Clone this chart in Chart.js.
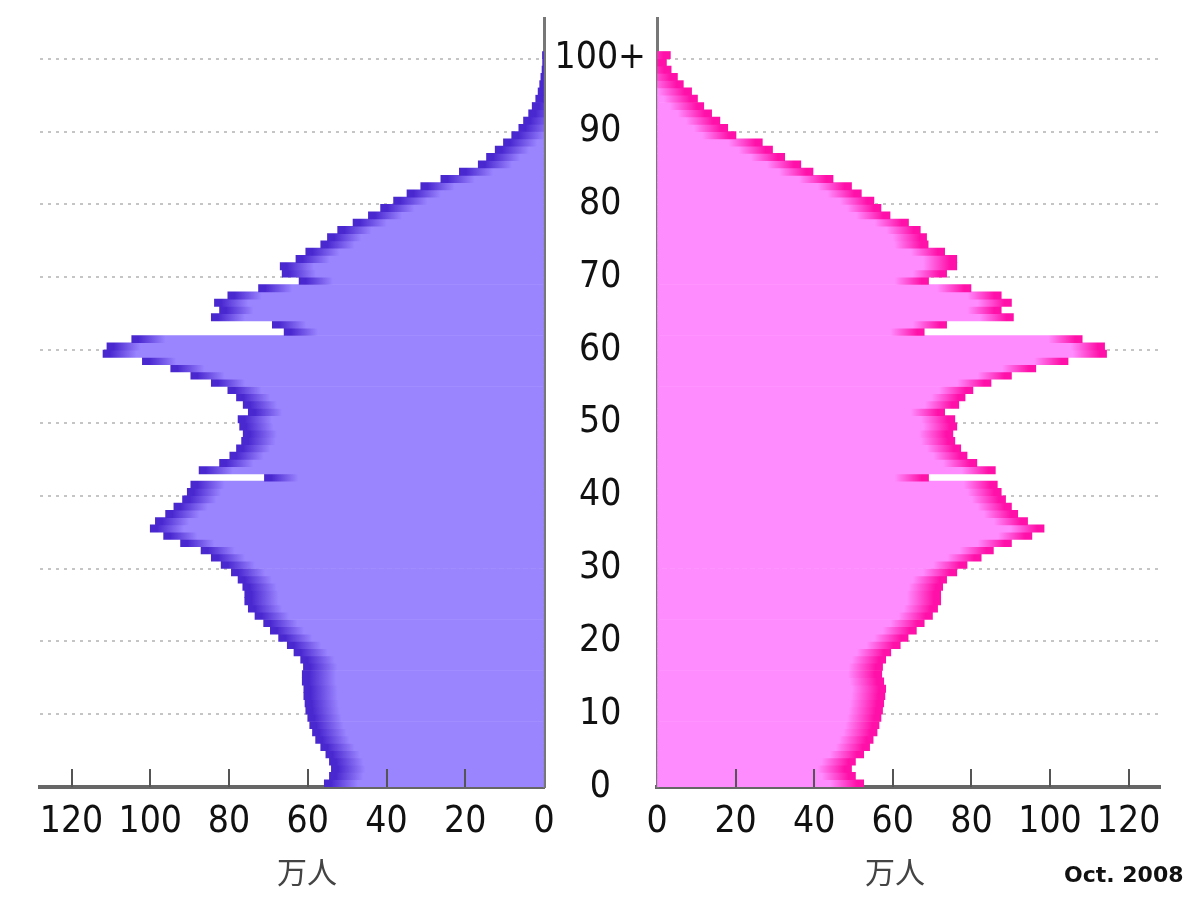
<!DOCTYPE html>
<html>
<head>
<meta charset="utf-8">
<script src="https://cdn.jsdelivr.net/npm/chart.js@4.4.0/dist/chart.umd.min.js"></script>
<style>
  body { margin: 0; background: #fff; width: 1200px; height: 900px; position: relative; overflow: hidden; }
  #leftWrap { position: absolute; left: 0; top: 0; }
  #rightWrap { position: absolute; left: 545px; top: 0; }
  .unit { position: absolute; top: 848px; font-family: 'Noto Sans CJK JP', sans-serif; font-size: 30px; color: #444; transform: translateX(-50%); }
  #stamp { position: absolute; left: 1064px; top: 862px; font-family: 'DejaVu Sans', sans-serif; font-weight: bold; font-size: 22px; color: #111; }
</style>
</head>
<body>
<div id="leftWrap"><canvas id="maleChart" width="560" height="900"></canvas></div>
<div id="rightWrap"><canvas id="femaleChart" width="655" height="900"></canvas></div>
<div class="unit" style="left:307px">万人</div>
<div class="unit" style="left:895px">万人</div>
<div id="stamp">Oct. 2008</div>
<script>
// ages 0 .. 100 (last one is 100+)
const ages = Array.from({ length: 101 }, (_, i) => i);
const ageTicks = [0, 10, 20, 30, 40, 50, 60, 70, 80, 90, 100];
const popTicks = [0, 20, 40, 60, 80, 100, 120];

// population in 万人, index = age
const male = [
  55.8, 54.5, 54, 54.5, 55.4, 56.7, 58, 58.8, 59.5, 60,
  60.5, 60.7, 61, 61, 61.4, 61.4, 61.1, 61.8, 63.5, 65.2,
  67.4, 69.5, 71.2, 73.4, 75.1, 76, 76, 76.5, 77.7, 79.4,
  82, 84.5, 87.1, 92.3, 96.6, 100, 98.7, 96.1, 94, 91.8,
  90.6, 89.7, 71, 87.6, 82.4, 79.8, 78.1, 76.8, 76.4, 77.3,
  77.7, 75.1, 76.4, 78.1, 80.3, 84.5, 89.7, 94.8, 102, 112,
  111, 104.7, 66, 69, 84.5, 82.4, 83.7, 80.3, 72.5, 62.2,
  66.5, 67, 63, 60.5, 56.7, 55, 52.4, 48.5, 44.6, 41.5,
  38.2, 34.8, 31.3, 26.2, 21.5, 16.7, 14.6, 12.4, 10.3, 8.2,
  6.4, 5.2, 3.9, 3.0, 2.1, 1.5, 1.1, 0.8, 0.5, 0.35,
  0.4
];
const female = [
  52.6, 50.5, 49.5, 50.5, 52.6, 54.1, 55, 56, 56.5, 57,
  57.4, 57.7, 58, 58.2, 57.7, 57.2, 57.4, 58.2, 59.5, 61.9,
  63.9, 66, 68, 70.1, 71.4, 72.2, 72.2, 72.7, 73.7, 76.3,
  78.9, 82.5, 85.6, 90.2, 95.4, 98.5, 94.3, 91.8, 90.2, 88.7,
  87.6, 86.6, 69.1, 86.1, 81.4, 78.9, 77.3, 75.8, 75.3, 76.3,
  75.8, 73.2, 76.8, 78.4, 80.4, 85, 90.2, 96.4, 104.6, 114.4,
  113.9, 108.2, 68, 73.7, 90.7, 87.6, 90.2, 87.6, 79.9, 69.1,
  73.7, 76.3, 76.3, 73.2, 69, 68.6, 67, 64, 59.3, 57,
  55.2, 52, 49.5, 44.8, 39.7, 36.6, 32.5, 29.4, 26.8, 20.1,
  18, 16, 13.9, 11.9, 10.3, 8.8, 6.7, 5.2, 3.6, 2.4,
  3.4
];

const FONT = "'DejaVu Sans Condensed', 'DejaVu Sans', sans-serif";

// dark tip fading to the light fill, like the original
function tipGradient(dark, light, dir) {
  return function (c) {
    const chart = c.chart;
    if (!chart.chartArea || !c.raw) return light;
    const px = chart.scales.x.getPixelForValue(c.raw.x);
    const g = chart.ctx.createLinearGradient(px, 0, px + dir * 34, 0);
    g.addColorStop(0, dark);
    g.addColorStop(0.2, dark);
    g.addColorStop(1, light);
    return g;
  };
}

// small tick marks drawn upwards from the x axis
const innerTicks = {
  id: 'innerTicks',
  afterDraw(chart) {
    const s = chart.scales.x, ctx = chart.ctx, b = chart.chartArea.bottom;
    ctx.save();
    ctx.strokeStyle = '#555';
    ctx.lineWidth = 2;
    s.ticks.forEach(t => {
      if (t.value === 0) return;
      const px = Math.round(s.getPixelForValue(t.value));
      ctx.beginPath();
      ctx.moveTo(px, b);
      ctx.lineTo(px, b - 18);
      ctx.stroke();
    });
    ctx.restore();
  }
};

function xScale(reverse) {
  return {
    type: 'linear', reverse: reverse, min: 0, max: 128, position: 'bottom', z: 1,
    afterBuildTicks: s => { s.ticks = popTicks.map(v => ({ value: v })); },
    afterFit: s => { s.height = 113; },
    grid: { display: true, drawOnChartArea: false, drawTicks: false },
    border: { display: true, color: '#666', width: 4 },
    ticks: { padding: 13, font: { family: FONT, size: 37 }, color: '#111', maxRotation: 0, autoSkip: false }
  };
}

function yScale(pos, showLabels) {
  return {
    type: 'linear', position: pos, min: 0, max: 105.6, z: 1,
    offset: false,
    afterBuildTicks: s => { s.ticks = ageTicks.map(v => ({ value: v })); },
    afterFit: s => {
      s.width = showLabels ? 112 : 16;
      s.paddingTop = 0;
      s.paddingBottom = 0;
    },
    grid: {
      offset: false,
      color: c => (c.tick && c.tick.value === 0) ? 'rgba(0,0,0,0)' : 'rgba(150,150,150,0.55)',
      lineWidth: 2, drawTicks: false
    },
    border: { display: true, color: '#777', width: 3, dash: [3, 5] },
    ticks: {
      display: showLabels, padding: 11, crossAlign: 'center',
      font: { family: FONT, size: 37 }, color: '#111',
      callback: v => v === 100 ? '100+' : v
    }
  };
}

function makeChart(id, values, dark, light, left) {
  const ctx = document.getElementById(id).getContext('2d');
  return new Chart(ctx, {
    type: 'bar',
    data: {
      datasets: [{
        data: ages.map((a, i) => ({ x: values[i], y: a + 0.5 })),
        backgroundColor: tipGradient(dark, light, left ? 1 : -1),
        borderWidth: 0,
        barPercentage: 1,
        categoryPercentage: 1
      }]
    },
    options: {
      indexAxis: 'y',
      responsive: false,
      animation: false,
      layout: { padding: left ? { left: 40, right: 0, top: 18, bottom: 0 } : { left: 0, right: 40, top: 18, bottom: 0 } },
      plugins: { legend: { display: false }, tooltip: { enabled: false } },
      scales: {
        x: xScale(left),
        y: yScale(left ? 'right' : 'left', !left)
      }
    },
    plugins: [innerTicks]
  });
}

makeChart('maleChart', male, '#4a28d0', '#9b85ff', true);
makeChart('femaleChart', female, '#ff10a8', '#ff8cff', false);
</script>
</body>
</html>
